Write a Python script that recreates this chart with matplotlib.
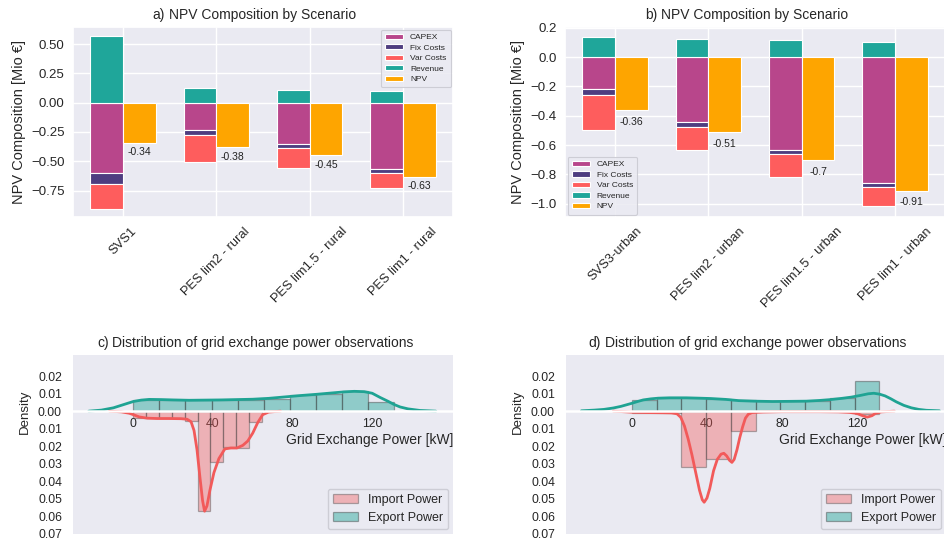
import numpy as np
import matplotlib
matplotlib.use("Agg")
import matplotlib.pyplot as plt
from matplotlib.patches import Patch
from matplotlib.ticker import FuncFormatter
import seaborn as sns

sns.set_theme(style="darkgrid")
plt.rcParams['font.family'] = ['Liberation Sans', 'DejaVu Sans']

# ---------------- NPV composition data (Mio €) ----------------
rural_scenarios = ["SVS1", "PES lim2 - rural", "PES lim1.5 - rural", "PES lim1 - rural"]
rural_capex = [-0.60, -0.235, -0.355, -0.565]
rural_fix = [-0.09, -0.04, -0.035, -0.035]
rural_var = [-0.22, -0.23, -0.165, -0.13]
rural_revenue = [0.57, 0.125, 0.105, 0.10]
rural_npv = [-0.34, -0.38, -0.45, -0.63]

urban_scenarios = ["SVS3-urban", "PES lim2 - urban", "PES lim1.5 - urban", "PES lim1 - urban"]
urban_capex = [-0.22, -0.44, -0.63, -0.855]
urban_fix = [-0.04, -0.035, -0.03, -0.03]
urban_var = [-0.24, -0.155, -0.155, -0.13]
urban_revenue = [0.14, 0.12, 0.115, 0.105]
urban_npv = [-0.36, -0.51, -0.70, -0.91]

# ---------------- grid exchange power distributions ----------------
rural_export_range = (0.0, 131.0)
rural_export_density = [0.0066, 0.0064, 0.0061, 0.0061, 0.0066, 0.0067, 0.0091, 0.0096, 0.0117, 0.0054]
rural_import_range = (0.0, 64.5)
rural_import_density = [0.0038, 0.0038, 0.0038, 0.0038, 0.0058, 0.0570, 0.0290, 0.0206, 0.0212, 0.0062]

rural_export_kde_x = [-22.4, -16, -10, -5, 0, 4, 8, 14, 20, 28, 36, 44, 52, 60, 68, 76, 84, 92, 100,
                      106, 111, 116, 120, 124, 128, 131, 134, 138, 144, 152]
rural_export_kde_y = [0.0, 0.0006, 0.0019, 0.0037, 0.0055, 0.0063, 0.0067, 0.0066, 0.0064, 0.0062,
                      0.0063, 0.0064, 0.0066, 0.0068, 0.0073, 0.0081, 0.0089, 0.0096, 0.0104,
                      0.0110, 0.0113, 0.0111, 0.0102, 0.0078, 0.0056, 0.0038, 0.0024, 0.0013,
                      0.0004, 0.0]
rural_import_kde_x = [-12, -6, -2, 0, 3, 7, 12, 18, 24, 27, 29, 30.5, 32, 33.5, 34.8, 35.8, 37, 38.5,
                      40.5, 43, 46, 49, 52, 55, 57.5, 60, 62.5, 65, 68, 74]
rural_import_kde_y = [0.0, 0.0004, 0.0012, 0.0020, 0.0033, 0.0040, 0.0042, 0.0042, 0.0043, 0.0046,
                      0.0060, 0.0110, 0.0220, 0.0380, 0.0510, 0.0570, 0.0540, 0.0450, 0.0350,
                      0.0270, 0.0215, 0.0210, 0.0210, 0.0195, 0.0170, 0.0125, 0.0065, 0.0020,
                      0.0005, 0.0]

urban_export_range = (0.0, 132.0)
urban_export_density = [0.0064, 0.0076, 0.0076, 0.0070, 0.0063, 0.0059, 0.0058, 0.0058, 0.0076, 0.0172]
urban_import_range = (0.0, 132.0)
urban_import_density = [0.0008, 0.0010, 0.0320, 0.0272, 0.0113, 0.0, 0.0, 0.0, 0.0, 0.0015]

urban_export_kde_x = [-27, -20, -15, -10, -6, -3, 0, 3, 6, 10, 14, 20, 29, 36, 42, 50, 57, 65, 75,
                      85, 93, 100, 106, 112, 117, 122, 126, 129, 132, 135, 138, 141, 145, 149, 153,
                      157, 164]
urban_export_kde_y = [0.0002, 0.0006, 0.0010, 0.0018, 0.0027, 0.0036, 0.0045, 0.0055, 0.0064,
                      0.0070, 0.0074, 0.0076, 0.0076, 0.0074, 0.0072, 0.0067, 0.0060, 0.0057,
                      0.0055, 0.0056, 0.0057, 0.0061, 0.0066, 0.0073, 0.0080, 0.0090, 0.0099,
                      0.0102, 0.0097, 0.0087, 0.0071, 0.0053, 0.0033, 0.0019, 0.0010, 0.0005,
                      0.0002]
urban_import_kde_x = [-10, -3, 0, 8, 16, 21, 24, 26, 28, 30, 32, 34, 36, 37.5, 38.5, 40, 41.5, 43.5,
                      45.5, 47.5, 49, 50.5, 52, 53.3, 54.5, 56, 57.5, 59, 60.5, 62, 64, 70, 80,
                      100, 110, 116, 120, 123, 125.5, 128, 130, 133, 140]
urban_import_kde_y = [0.0, 0.0004, 0.0006, 0.0008, 0.0009, 0.0010, 0.0015, 0.0035, 0.0085, 0.0160,
                      0.0250, 0.0350, 0.0450, 0.0505, 0.0519, 0.0495, 0.0440, 0.0340, 0.0275,
                      0.0245, 0.0240, 0.0255, 0.0280, 0.0292, 0.0275, 0.0220, 0.0150, 0.0090,
                      0.0040, 0.0018, 0.0008, 0.0005, 0.0003, 0.0003, 0.0004, 0.0007, 0.0013,
                      0.0026, 0.0034, 0.0026, 0.0012, 0.0004, 0.0]

# ---------------- styling ----------------
C_CAPEX = "#b8468b"
C_FIX = "#4e3d80"
C_VAR = "#fe5d5d"
C_REV = "#1fa69a"
C_NPV = "#fea500"
C_EXPORT = "#22a699"
C_IMPORT = "#f25c5c"
C_EXPORT_LINE = "#1fa393"
C_IMPORT_LINE = "#f25a5a"

fig = plt.figure(figsize=(9.44, 5.43), dpi=100)
W, H = 944.0, 543.0


def px_axes(left, top, right, bottom):
    return fig.add_axes([left / W, 1 - bottom / H, (right - left) / W, (bottom - top) / H])


def npv_panel(ax, letter, letter_x, scenarios, capex, fix, var, revenue, npv, legend_loc, ylim):
    x = np.arange(len(scenarios))
    w = 0.35
    capex = np.asarray(capex)
    fix = np.asarray(fix)
    kw = dict(width=w, edgecolor="white", linewidth=0.8)
    ax.bar(x - w / 2, capex, color=C_CAPEX, label="CAPEX", **kw)
    ax.bar(x - w / 2, fix, bottom=capex, color=C_FIX, label="Fix Costs", **kw)
    ax.bar(x - w / 2, var, bottom=capex + fix, color=C_VAR, label="Var Costs", **kw)
    ax.bar(x - w / 2, revenue, color=C_REV, label="Revenue", **kw)
    ax.bar(x + w / 2, npv, color=C_NPV, label="NPV", **kw)
    for xi, v in zip(x, npv):
        ax.text(xi + w / 2, v - 0.08, f"{v:g}", ha="center", va="center", fontsize=7.5, color="#222222")
    ax.set_ylim(*ylim)
    ax.set_xticks(x)
    ax.set_xticklabels(scenarios, rotation=45, fontsize=9.3)
    ax.tick_params(axis="x", pad=6, length=0)
    ax.tick_params(axis="y", labelsize=9.5, pad=6, length=0)
    ax.set_ylabel("NPV Composition [Mio €]", fontsize=10.5, labelpad=4)
    ax.set_title("NPV Composition by Scenario", fontsize=10, pad=6)
    ax.annotate(letter, xy=(letter_x, 1.0), xycoords="axes fraction", xytext=(0, 6),
                textcoords="offset points", fontsize=10, va="baseline", ha="left")
    leg = ax.legend(loc=legend_loc, fontsize=6, handlelength=2.2, handleheight=0.6,
                    labelspacing=0.35, borderaxespad=0.3, frameon=True, framealpha=0.85,
                    borderpad=0.5)
    leg.get_frame().set_edgecolor("#c8c8d0")
    leg.get_frame().set_linewidth(0.8)


def hist_panel(ax, letter, letter_x, exp_range, exp_dens, imp_range, imp_dens,
               ekx, eky, ikx, iky, xlim):
    e_edges = np.linspace(exp_range[0], exp_range[1], len(exp_dens) + 1)
    i_edges = np.linspace(imp_range[0], imp_range[1], len(imp_dens) + 1)
    edge = (0.25, 0.25, 0.25, 0.75)
    ax.bar(i_edges[:-1], -np.asarray(imp_dens), width=np.diff(i_edges), align="edge",
           color=C_IMPORT, alpha=0.4, edgecolor=edge, linewidth=0.9)
    ax.bar(e_edges[:-1], exp_dens, width=np.diff(e_edges), align="edge",
           color=C_EXPORT, alpha=0.45, edgecolor=edge, linewidth=0.9)
    ax.plot(ekx, eky, color=C_EXPORT_LINE, lw=2)
    ax.plot(ikx, -np.asarray(iky), color=C_IMPORT_LINE, lw=2)

    ax.grid(False)
    for s in ("top", "right", "left"):
        ax.spines[s].set_visible(False)
    ax.spines["bottom"].set_position(("data", 0))
    ax.spines["bottom"].set_color("white")
    ax.spines["bottom"].set_linewidth(1.8)
    ax.spines["bottom"].set_zorder(3)

    ax.set_xlim(*xlim)
    ax.set_ylim(-0.07, 0.032)
    ax.set_xticks([0, 40, 80, 120])
    ax.set_yticks([-0.07, -0.06, -0.05, -0.04, -0.03, -0.02, -0.01, 0.0, 0.01, 0.02])
    ax.yaxis.set_major_formatter(FuncFormatter(lambda v, p: f"{abs(v):.2f}"))
    ax.tick_params(axis="x", labelsize=8.8, pad=5, length=0)
    ax.tick_params(axis="y", labelsize=8.8, pad=8, length=0)
    ax.set_xlabel("Grid Exchange Power [kW]", fontsize=10, loc="right", labelpad=2)
    ax.set_ylabel("Density", fontsize=9.5)
    ax.yaxis.set_label_coords(-0.11, 0.68)
    ax.set_title("Distribution of grid exchange power observations", fontsize=10, pad=6)
    ax.annotate(letter, xy=(letter_x, 1.0), xycoords="axes fraction", xytext=(0, 6),
                textcoords="offset points", fontsize=10, va="baseline", ha="left")
    handles = [Patch(facecolor=C_IMPORT, alpha=0.4, edgecolor=(0.25, 0.25, 0.25), linewidth=0.9),
               Patch(facecolor=C_EXPORT, alpha=0.45, edgecolor=(0.25, 0.25, 0.25), linewidth=0.9)]
    leg = ax.legend(handles, ["Import Power", "Export Power"], loc="lower right", fontsize=9,
                    frameon=True, framealpha=0.85, borderaxespad=0.4, handlelength=2.0)
    leg.get_frame().set_edgecolor("#c8c8d0")


ax_a = px_axes(73, 27, 453, 217)
ax_b = px_axes(565, 27, 945, 217)
ax_c = px_axes(73, 355, 453, 534)
ax_d = px_axes(566, 355, 946, 534)

npv_panel(ax_a, "a)", 0.21, rural_scenarios, rural_capex, rural_fix, rural_var,
          rural_revenue, rural_npv, "upper right", (-0.975, 0.645))
npv_panel(ax_b, "b)", 0.21, urban_scenarios, urban_capex, urban_fix, urban_var,
          urban_revenue, urban_npv, "lower left", (-1.09, 0.205))

hist_panel(ax_c, "c)", 0.063, rural_export_range, rural_export_density, rural_import_range,
           rural_import_density, rural_export_kde_x, rural_export_kde_y,
           rural_import_kde_x, rural_import_kde_y, (-30.3, 160.6))
hist_panel(ax_d, "d)", 0.06, urban_export_range, urban_export_density, urban_import_range,
           urban_import_density, urban_export_kde_x, urban_export_kde_y,
           urban_import_kde_x, urban_import_kde_y, (-35.2, 167.5))

fig.savefig("out.png", dpi=100)
